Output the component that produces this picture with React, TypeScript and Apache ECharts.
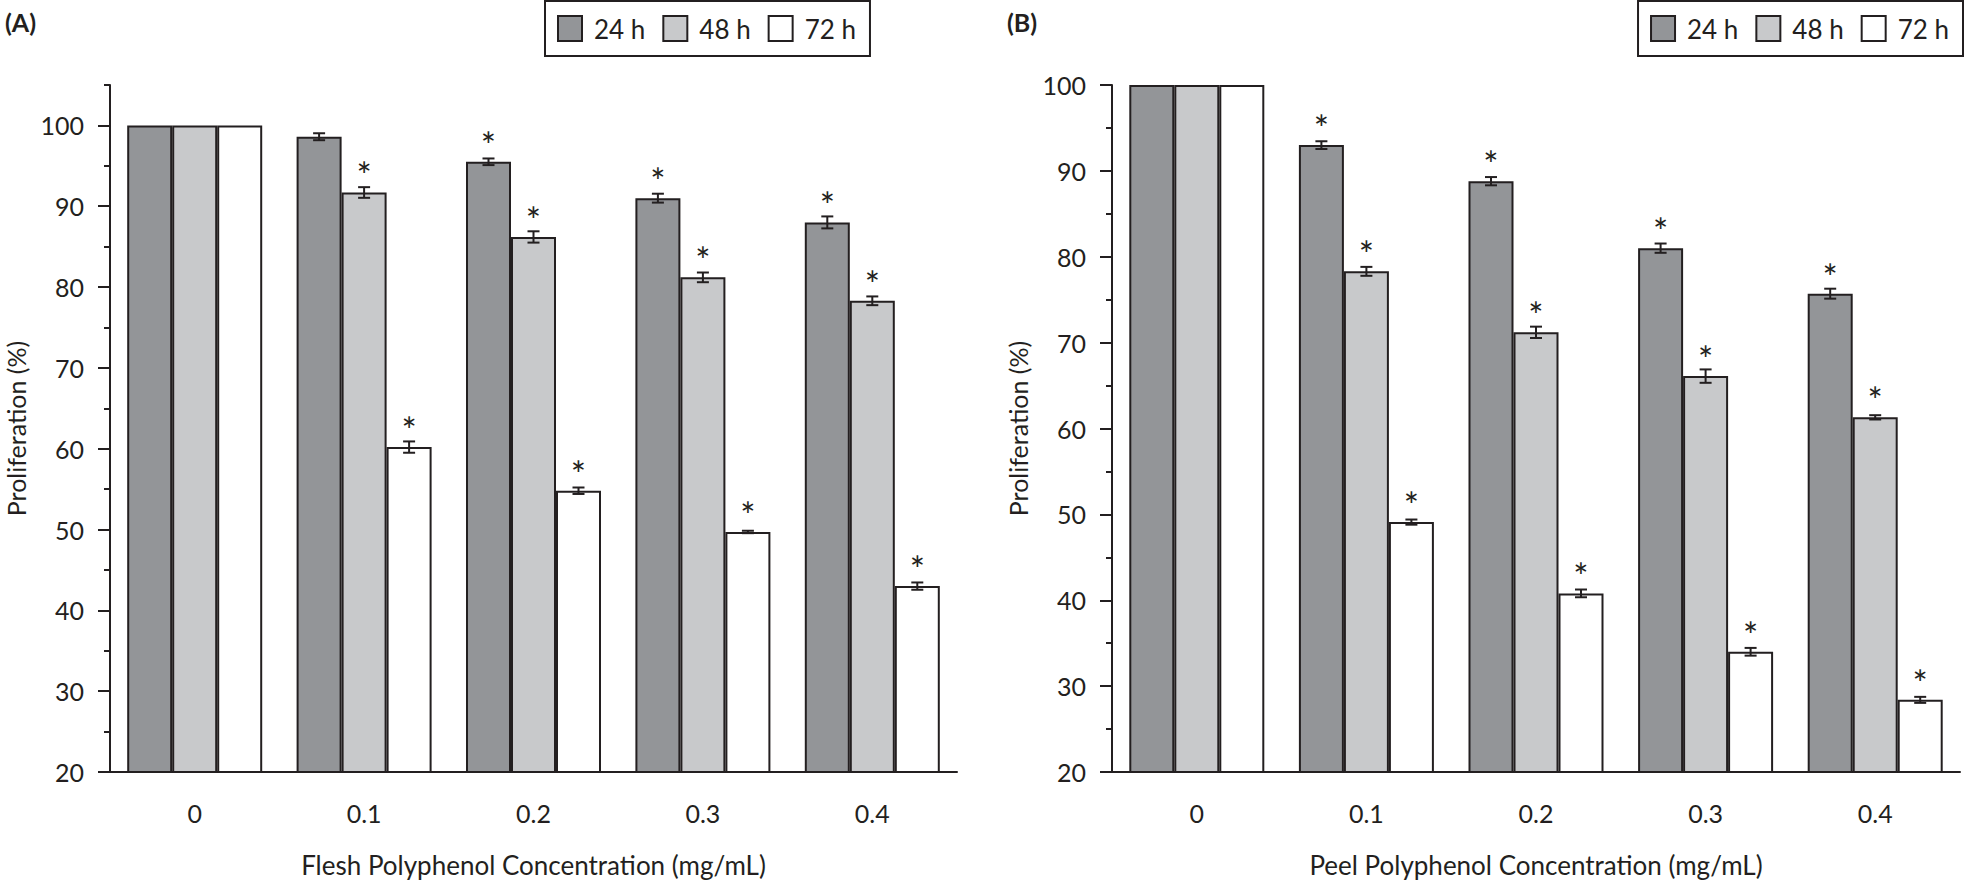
import { useEffect, useRef } from 'react';
import * as echarts from 'echarts';

// concentrations (mg/mL)
const categories = ['0', '0.1', '0.2', '0.3', '0.4'];
const seriesNames = ['24 h', '48 h', '72 h'];

// (A) flesh polyphenol
const flesh24 = [100, 98.6, 95.5, 91.0, 88.0];
const flesh48 = [100, 91.7, 86.2, 81.2, 78.3];
const flesh72 = [100, 60.2, 54.8, 49.7, 43.0];
const fleshErr24 = [0, 0.43, 0.41, 0.55, 0.74];
const fleshErr48 = [0, 0.66, 0.7, 0.6, 0.54];
const fleshErr72 = [0, 0.7, 0.4, 0.15, 0.45];
const fleshStar24 = [0, 0, 1, 1, 1];
const fleshStar48 = [0, 1, 1, 1, 1];
const fleshStar72 = [0, 1, 1, 1, 1];

// (B) peel polyphenol
const peel24 = [100, 93.0, 88.8, 81.0, 75.7];
const peel48 = [100, 78.3, 71.2, 66.1, 61.3];
const peel72 = [100, 49.1, 40.8, 34.0, 28.4];
const peelErr24 = [0, 0.45, 0.48, 0.54, 0.58];
const peelErr48 = [0, 0.52, 0.66, 0.78, 0.25];
const peelErr72 = [0, 0.3, 0.45, 0.45, 0.35];
const peelStar24 = [0, 1, 1, 1, 1];
const peelStar48 = [0, 1, 1, 1, 1];
const peelStar72 = [0, 1, 1, 1, 1];

const majorTicksA = [20, 30, 40, 50, 60, 70, 80, 90, 100];
const minorTicksA = [25, 35, 45, 55, 65, 75, 85, 95, 105];
const majorTicksB = [20, 30, 40, 50, 60, 70, 80, 90, 100];
const minorTicksB = [25, 35, 45, 55, 65, 75, 85, 95];

const FONT = 'Lato, "Open Sans", sans-serif';
const INK = '#231f20';
const COLORS = ['#939598', '#c8c9cb', '#ffffff'];
const BAR_W = 45;

export default function App() {
    const chartRef = useRef<HTMLDivElement>(null);

    useEffect(() => {
        if (!chartRef.current) return;
        document.body.style.margin = '0';
        const chart = echarts.init(chartRef.current, null, { renderer: 'svg' });

        const xAxes = (gridIndex: number, name: string) => [
            {
                type: 'category',
                gridIndex,
                position: 'bottom',
                data: categories,
                axisLine: { lineStyle: { color: INK, width: 2 } },
                axisTick: { alignWithLabel: true, length: 13, lineStyle: { color: INK, width: 2 } },
                axisLabel: { margin: 28, fontSize: 25, color: INK, fontFamily: FONT },
                name,
                nameLocation: 'middle',
                nameGap: 80,
                nameTextStyle: { fontSize: 26, color: INK, fontFamily: FONT },
            },
            {
                type: 'category',
                gridIndex,
                position: 'bottom',
                data: categories,
                axisLine: { show: false },
                axisTick: { length: 5, lineStyle: { color: INK, width: 2 } },
                axisLabel: { show: false },
            },
        ];

        const yAxes = (gridIndex: number, max: number, major: number[], minor: number[]) => [
            {
                type: 'value',
                gridIndex,
                position: 'left',
                min: 20,
                max,
                interval: 10,
                splitLine: { show: false },
                axisLine: { show: true, lineStyle: { color: INK, width: 2 } },
                axisTick: { show: true, length: 12, customValues: major, lineStyle: { color: INK, width: 2 } },
                axisLabel: { margin: 26, fontSize: 25, color: INK, fontFamily: FONT, customValues: major },
                name: 'Proliferation (%)',
                nameLocation: 'middle',
                nameGap: 82,
                nameTextStyle: { fontSize: 25, color: INK, fontFamily: FONT },
            },
            {
                type: 'value',
                gridIndex,
                position: 'left',
                min: 20,
                max,
                interval: 10,
                splitLine: { show: false },
                axisLine: { show: false },
                axisTick: { show: true, length: 6, customValues: minor, lineStyle: { color: INK, width: 2 } },
                axisLabel: { show: false },
            },
        ];

        const barSeries = (axisIdx: number, values: number[], k: number) => ({
            name: seriesNames[k],
            type: 'bar',
            xAxisIndex: axisIdx * 2,
            yAxisIndex: axisIdx * 2,
            data: values,
            barWidth: BAR_W,
            barGap: '0%',
            itemStyle: { color: COLORS[k], borderColor: INK, borderWidth: 2 },
        });

        const errSeries = (axisIdx: number, values: number[], errs: number[], stars: number[], k: number) => ({
            name: 'err' + axisIdx + k,
            type: 'custom',
            xAxisIndex: axisIdx * 2,
            yAxisIndex: axisIdx * 2,
            z: 5,
            clip: false,
            data: values.map((v, i) => [i, v, errs[i], stars[i]]),
            encode: { x: 0, y: 1 },
            renderItem: (_params: any, api: any) => {
                const cat = api.value(0);
                const v = api.value(1);
                const e = api.value(2);
                const star = api.value(3);
                const base = api.coord([cat, v]);
                const x = base[0] + (k - 1) * BAR_W;
                const children: any[] = [];
                const ls = { stroke: INK, lineWidth: 2 };
                if (e > 0) {
                    const top = api.coord([cat, v + e])[1];
                    const bot = api.coord([cat, v - e])[1];
                    children.push(
                        { type: 'line', shape: { x1: x, y1: top, x2: x, y2: bot }, style: ls },
                        { type: 'line', shape: { x1: x - 6, y1: top, x2: x + 6, y2: top }, style: ls },
                        { type: 'line', shape: { x1: x - 6, y1: bot, x2: x + 6, y2: bot }, style: ls }
                    );
                }
                if (star) {
                    children.push({
                        type: 'text',
                        style: {
                            text: '*',
                            x,
                            y: base[1] - 17,
                            textAlign: 'center',
                            textVerticalAlign: 'middle',
                            fontSize: 36,
                            fontFamily: FONT,
                            fill: INK,
                        },
                    });
                }
                return { type: 'group', children };
            },
        });

        const legend = (pos: any) => ({
            data: seriesNames,
            ...pos,
            top: 1,
            width: 330,
            orient: 'horizontal',
            icon: 'rect',
            itemWidth: 24,
            itemHeight: 25,
            itemGap: 17,
            padding: [14, 14, 14, 12],
            borderColor: INK,
            borderWidth: 2,
            textStyle: { fontSize: 26, color: INK, fontFamily: FONT, padding: [0, 0, 0, 7] },
            selectedMode: false,
        });

        const option: any = {
            animation: false,
            backgroundColor: '#ffffff',
            title: [
                { text: '(A)', left: 0, top: 4, textStyle: { fontSize: 25, fontWeight: 'bold', color: INK, fontFamily: FONT } },
                { text: '(B)', left: 1002, top: 4, textStyle: { fontSize: 25, fontWeight: 'bold', color: INK, fontFamily: FONT } },
            ],
            legend: [legend({ left: 545 }), legend({ right: 1 })],
            grid: [
                { left: 110, top: 85, width: 847, height: 688, containLabel: false },
                { left: 1112, top: 85, width: 848, height: 688, containLabel: false },
            ],
            xAxis: [
                ...xAxes(0, 'Flesh Polyphenol Concentration (mg/mL)'),
                ...xAxes(1, 'Peel Polyphenol Concentration (mg/mL)'),
            ],
            yAxis: [
                ...yAxes(0, 105, majorTicksA, minorTicksA),
                ...yAxes(1, 100, majorTicksB, minorTicksB),
            ],
            series: [
                barSeries(0, flesh24, 0),
                barSeries(0, flesh48, 1),
                barSeries(0, flesh72, 2),
                barSeries(1, peel24, 0),
                barSeries(1, peel48, 1),
                barSeries(1, peel72, 2),
                errSeries(0, flesh24, fleshErr24, fleshStar24, 0),
                errSeries(0, flesh48, fleshErr48, fleshStar48, 1),
                errSeries(0, flesh72, fleshErr72, fleshStar72, 2),
                errSeries(1, peel24, peelErr24, peelStar24, 0),
                errSeries(1, peel48, peelErr48, peelStar48, 1),
                errSeries(1, peel72, peelErr72, peelStar72, 2),
            ],
        };

        chart.setOption(option);

        return () => {
            chart.dispose();
        };
    }, []);

    return <div ref={chartRef} style={{ width: '1964px', height: '883px' }} />;
}
